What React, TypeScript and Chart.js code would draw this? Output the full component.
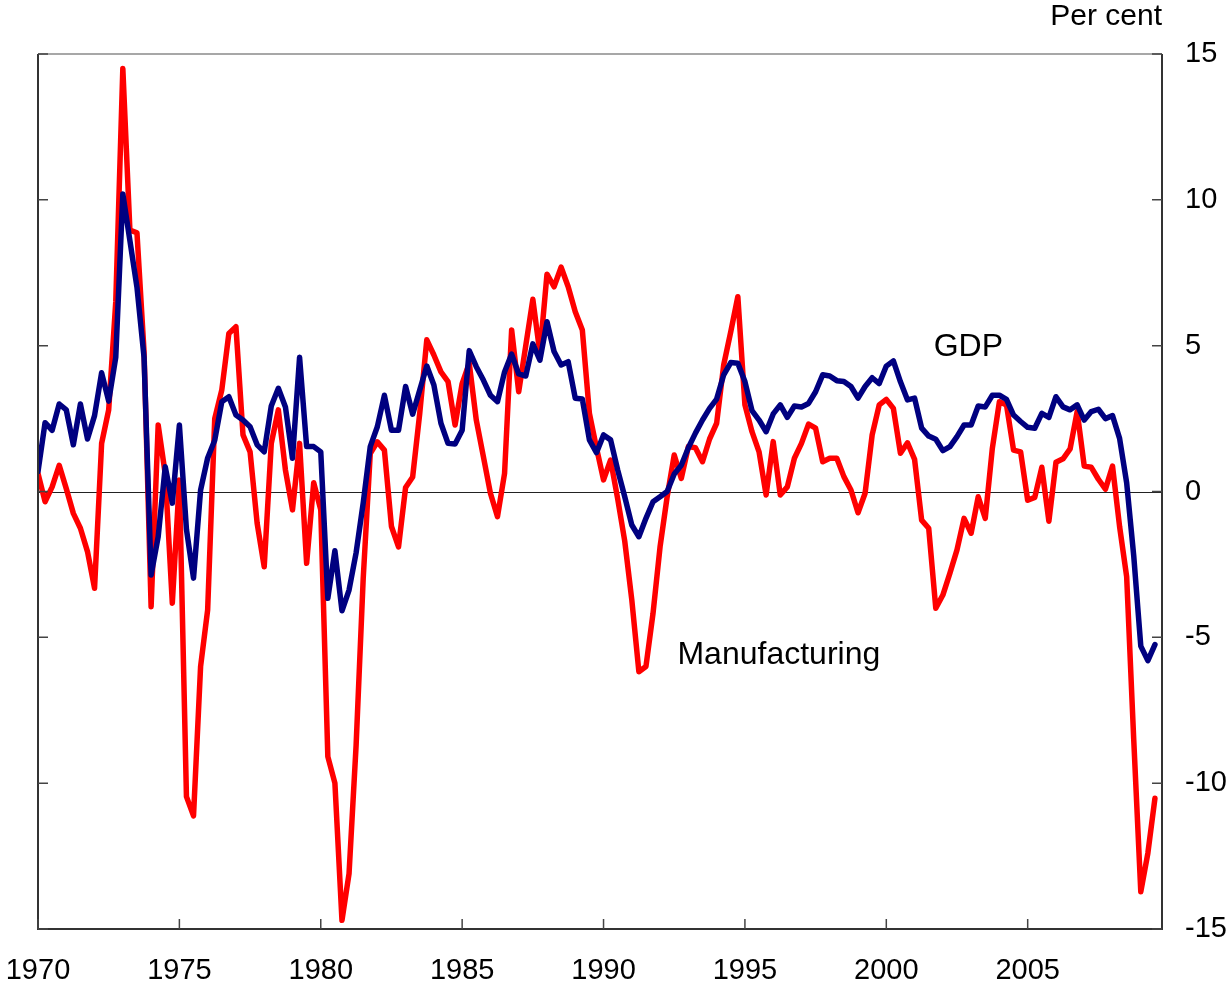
import React, { useEffect, useRef } from "react";
import { Chart, registerables } from "chart.js";

Chart.register(...registerables);

// Quarterly data, 1970 Q1 to 2009 Q3, year-ended growth, per cent
const startYear = 1970;
const gdp: number[] = [
  0.68, 2.36, 2.1, 3.0, 2.8, 1.6, 3.0, 1.8,
  2.6, 4.07, 3.1, 4.6, 10.2, 8.6, 7.0, 4.6,
  -2.86, -1.55, 0.85, -0.4, 2.28, -1.3, -2.97, 0.05,
  1.15, 1.76, 3.08, 3.25, 2.62, 2.45, 2.22, 1.6,
  1.36, 2.93, 3.54, 2.9, 1.14, 4.6, 1.54, 1.54,
  1.36, -3.66, -2.03, -4.09, -3.38, -2.1, -0.4, 1.54,
  2.22, 3.3, 2.1, 2.1, 3.6, 2.65, 3.48, 4.3,
  3.65, 2.34, 1.65, 1.63, 2.1, 4.83, 4.28, 3.82,
  3.3, 3.08, 4.1, 4.71, 4.03, 3.96, 5.06, 4.5,
  5.82, 4.8, 4.34, 4.45, 3.2, 3.17, 1.77, 1.33,
  1.94, 1.77, 0.74, -0.18, -1.15, -1.55, -0.92, -0.35,
  -0.18, 0.0, 0.6, 0.9, 1.5, 2.0, 2.45, 2.85,
  3.17, 4.0, 4.42, 4.4, 3.77, 2.77, 2.45, 2.05,
  2.66, 2.97, 2.54, 2.93, 2.9, 3.02, 3.42, 4.0,
  3.96, 3.8, 3.77, 3.6, 3.2, 3.6, 3.9, 3.7,
  4.3, 4.48, 3.76, 3.14, 3.2, 2.17, 1.9, 1.79,
  1.4, 1.54, 1.88, 2.28, 2.28, 2.93, 2.9, 3.3,
  3.3, 3.16, 2.62, 2.4, 2.2, 2.17, 2.68, 2.54,
  3.25, 2.9, 2.8, 2.97, 2.45, 2.74, 2.82, 2.5,
  2.6, 1.82, 0.3, -2.2, -5.3, -5.8, -5.25,
];
const manufacturing: number[] = [
  0.62, -0.35, 0.16, 0.9, 0.1, -0.75, -1.26, -2.06,
  -3.32, 1.65, 2.8, 6.5, 14.5, 8.96, 8.87, 4.8,
  -3.95, 2.28, 0.6, -3.83, 0.39, -10.46, -11.12, -6.0,
  -4.06, 2.5, 3.48, 5.42, 5.65, 1.94, 1.36, -1.09,
  -2.58, 1.65, 2.8, 0.74, -0.63, 1.65, -2.46, 0.3,
  -0.63, -9.09, -10.0, -14.7, -13.1, -8.7, -3.0, 1.3,
  1.7, 1.42, -1.2, -1.9, 0.14, 0.5, 2.68, 5.2,
  4.68, 4.1, 3.77, 2.28, 3.7, 4.4, 2.45, 1.2,
  -0.06, -0.86, 0.62, 5.54, 3.42, 5.0, 6.59, 4.74,
  7.45, 7.02, 7.69, 7.02, 6.16, 5.54, 2.68, 1.5,
  0.4, 1.08, -0.25, -1.7, -3.72, -6.18, -6.0, -4.18,
  -1.89, -0.18, 1.25, 0.45, 1.54, 1.5, 1.02, 1.8,
  2.34, 4.34, 5.48, 6.68, 2.97, 2.05, 1.36, -0.12,
  1.71, -0.12, 0.16, 1.14, 1.65, 2.31, 2.17, 1.02,
  1.14, 1.14, 0.51, 0.05, -0.73, -0.06, 1.94, 2.97,
  3.16, 2.85, 1.31, 1.67, 1.1, -0.98, -1.26, -4.0,
  -3.55, -2.8, -2.0, -0.92, -1.43, -0.18, -0.92, 1.48,
  3.08, 2.97, 1.42, 1.36, -0.3, -0.2, 0.83, -1.02,
  1.0, 1.12, 1.46, 2.74, 0.87, 0.83, 0.42, 0.08,
  0.87, -1.2, -2.92, -8.5, -13.72, -12.4, -10.52,
];
const xTicks: number[] = [1970, 1975, 1980, 1985, 1990, 1995, 2000, 2005];
const yTicks: number[] = [-15, -10, -5, 0, 5, 10, 15];
const xMin = 1970;
const xMax = 2009.75;
const yMin = -15;
const yMax = 15;
const unitLabel = "Per cent";
const seriesLabels = { gdp: "GDP", manufacturing: "Manufacturing" };
const labelPositions = {
  gdp: { x: 2002.9, y: 4.95 },
  manufacturing: { x: 1996.2, y: -5.6 },
};

const FONT = "'Liberation Sans', Arial, sans-serif";

const toPoints = (vals: number[]) =>
  vals.map((v, i) => ({ x: startYear + i / 4, y: v }));

const framePlugin = {
  id: "frame",
  beforeDatasetsDraw(chart: any) {
    const { ctx, chartArea, scales } = chart;
    const y0 = scales.y.getPixelForValue(0);
    ctx.save();
    ctx.strokeStyle = "#222";
    ctx.lineWidth = 1;
    ctx.beginPath();
    ctx.moveTo(chartArea.left, Math.round(y0) + 0.5);
    ctx.lineTo(chartArea.right, Math.round(y0) + 0.5);
    ctx.stroke();
    ctx.restore();
  },
  afterDatasetsDraw(chart: any) {
    const { ctx, chartArea, scales } = chart;
    const { left, right, top, bottom } = chartArea;
    ctx.save();
    // frame
    ctx.strokeStyle = "#8a8a8a";
    ctx.lineWidth = 1.5;
    ctx.beginPath();
    ctx.moveTo(left, top);
    ctx.lineTo(right, top);
    ctx.stroke();
    ctx.strokeStyle = "#333";
    ctx.lineWidth = 2;
    ctx.beginPath();
    ctx.moveTo(left, top);
    ctx.lineTo(left, bottom);
    ctx.lineTo(right, bottom);
    ctx.lineTo(right, top);
    ctx.stroke();
    // inward ticks
    ctx.lineWidth = 1.5;
    ctx.strokeStyle = "#444";
    const tl = 10;
    yTicks.forEach((v) => {
      const py = scales.y.getPixelForValue(v);
      ctx.beginPath();
      ctx.moveTo(left, py);
      ctx.lineTo(left + tl, py);
      ctx.moveTo(right - tl, py);
      ctx.lineTo(right, py);
      ctx.stroke();
    });
    xTicks.forEach((v) => {
      const px = scales.x.getPixelForValue(v);
      ctx.beginPath();
      ctx.moveTo(px, bottom);
      ctx.lineTo(px, bottom - tl);
      ctx.stroke();
    });
    // labels
    ctx.fillStyle = "#000";
    ctx.textBaseline = "middle";
    ctx.font = `32px ${FONT}`;
    ctx.textAlign = "center";
    ctx.fillText(
      seriesLabels.gdp,
      scales.x.getPixelForValue(labelPositions.gdp.x),
      scales.y.getPixelForValue(labelPositions.gdp.y)
    );
    ctx.fillText(
      seriesLabels.manufacturing,
      scales.x.getPixelForValue(labelPositions.manufacturing.x),
      scales.y.getPixelForValue(labelPositions.manufacturing.y)
    );
    ctx.font = `30px ${FONT}`;
    ctx.textAlign = "right";
    ctx.fillText(unitLabel, right, top - 37);
    ctx.restore();
  },
};

export default function App() {
  const canvasRef = useRef<HTMLCanvasElement | null>(null);

  useEffect(() => {
    const canvas = canvasRef.current;
    if (!canvas) return;
    const chart = new Chart(canvas, {
      type: "line",
      data: {
        datasets: [
          {
            label: seriesLabels.gdp,
            data: toPoints(gdp),
            borderColor: "#000080",
            borderWidth: 5.5,
            pointRadius: 0,
            tension: 0,
            borderJoinStyle: "round",
            borderCapStyle: "round",
            fill: false,
          },
          {
            label: seriesLabels.manufacturing,
            data: toPoints(manufacturing),
            borderColor: "#ff0000",
            borderWidth: 5.5,
            pointRadius: 0,
            tension: 0,
            borderJoinStyle: "round",
            borderCapStyle: "round",
            fill: false,
          },
        ],
      },
      options: {
        animation: false,
        responsive: false,
        maintainAspectRatio: false,
        layout: { padding: { left: 38, top: 54, right: 0, bottom: 0 } },
        plugins: {
          legend: { display: false },
          tooltip: { enabled: false },
        },
        scales: {
          x: {
            type: "linear",
            position: "bottom",
            min: xMin,
            max: xMax,
            grid: { display: false, drawTicks: false },
            border: { display: false },
            afterBuildTicks: (scale: any) => {
              scale.ticks = xTicks.map((v) => ({ value: v }));
            },
            afterFit: (scale: any) => {
              scale.height = 62;
              scale.paddingLeft = 0;
              scale.paddingRight = 0;
            },
            ticks: {
              autoSkip: false,
              maxRotation: 0,
              padding: 25,
              color: "#000",
              font: { family: FONT, size: 29 },
              callback: (v: any) => String(v),
            },
          },
          y: {
            type: "linear",
            position: "right",
            min: yMin,
            max: yMax,
            grid: { display: false, drawTicks: false },
            border: { display: false },
            afterBuildTicks: (scale: any) => {
              scale.ticks = yTicks.map((v) => ({ value: v }));
            },
            afterFit: (scale: any) => {
              scale.width = 67;
              scale.paddingTop = 0;
              scale.paddingBottom = 0;
            },
            ticks: {
              padding: 23,
              color: "#000",
              font: { family: FONT, size: 29 },
              callback: (v: any) => String(v),
            },
          },
        },
      },
      plugins: [framePlugin],
    });
    return () => chart.destroy();
  }, []);

  return (
    <div
      style={{
        position: "absolute",
        left: 0,
        top: 0,
        width: 1229,
        height: 991,
        background: "#fff",
      }}
    >
      <canvas ref={canvasRef} width={1229} height={991} />
    </div>
  );
}
